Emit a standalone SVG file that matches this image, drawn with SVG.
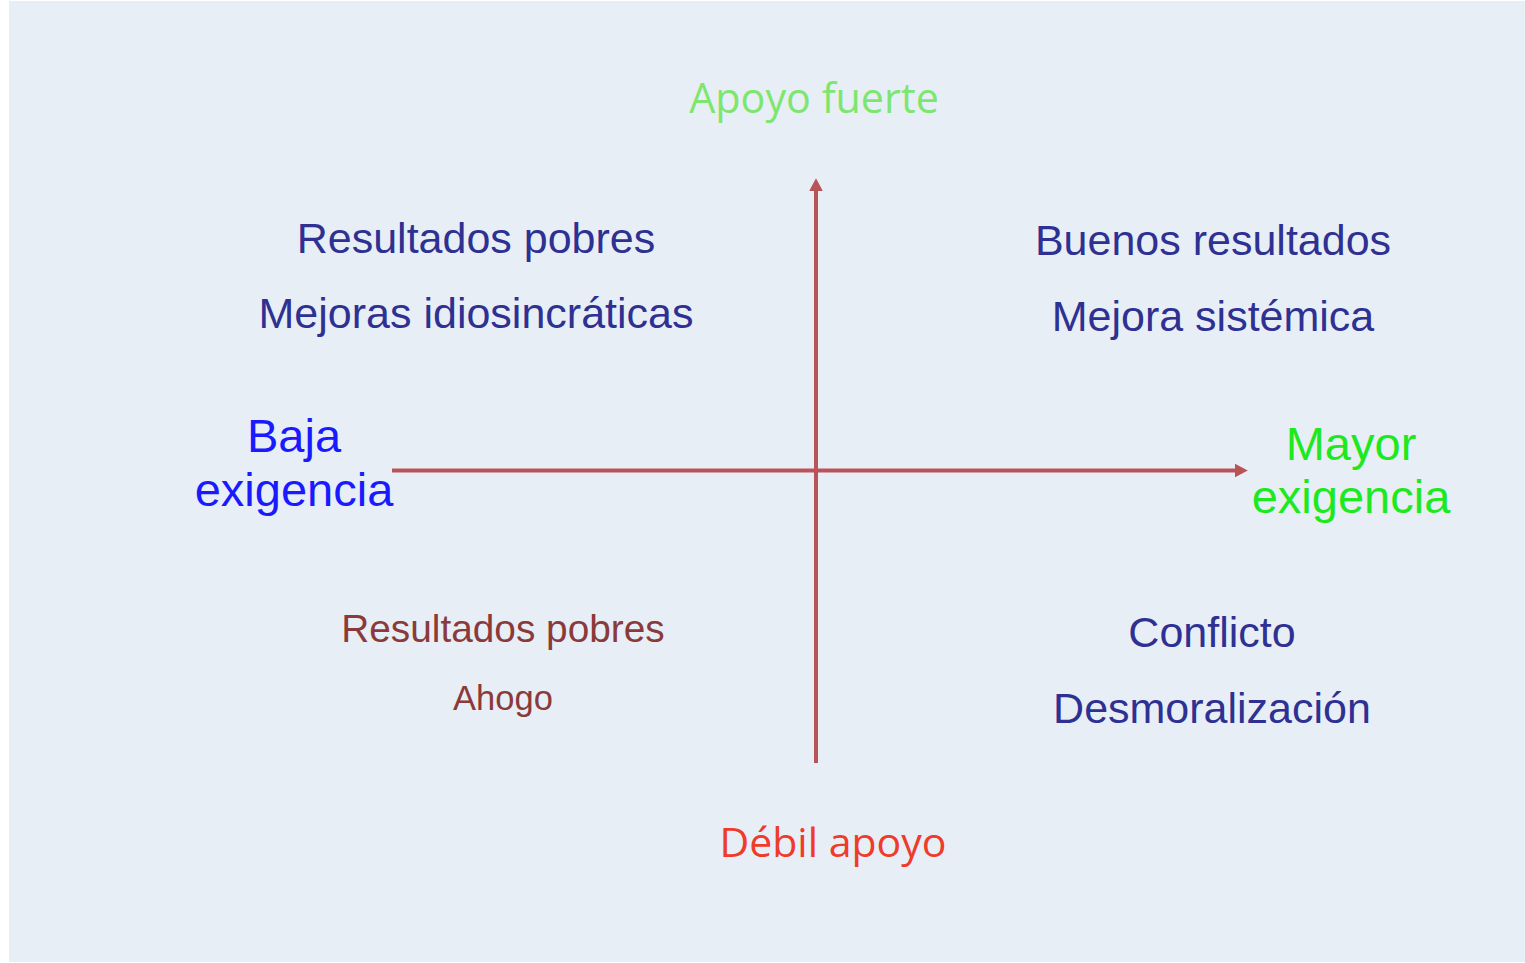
<svg xmlns="http://www.w3.org/2000/svg" width="1525" height="963" viewBox="0 0 1525 963">
<style>
.s{font-family:"Liberation Sans",Arial,sans-serif;text-anchor:middle}
.o{font-family:"Open Sans","Noto Sans",sans-serif;text-anchor:middle}
.q{fill:#2E3192;font-size:43px}
.ax{stroke:#B85457;stroke-width:4;fill:none}
</style>
<defs>
<marker id="ah" markerWidth="4" markerHeight="4" refX="0.5" refY="2" orient="auto" markerUnits="strokeWidth">
<path d="M0,0.3 L3.2,2 L0,3.7 Z" fill="#B85457"/>
</marker>
</defs>
<rect x="0" y="0" width="1525" height="963" fill="#FFFFFF"/>
<rect x="9" y="1" width="1516" height="961" fill="#E8EEF6"/>
<g id="connectors">
<line class="ax" x1="816" y1="763" x2="816" y2="189" marker-end="url(#ah)"/>
<line class="ax" x1="392" y1="470.5" x2="1237" y2="470.5" marker-end="url(#ah)"/>
</g>
<g id="top-label"><text class="o" x="814" y="113" font-size="41.3" fill="#7DE66F">Apoyo fuerte</text></g>
<g id="bottom-label"><text class="o" x="833" y="857" font-size="41" fill="#EE3B2A">Débil apoyo</text></g>
<g id="left-label">
<text class="s" x="294" y="452" font-size="47" fill="#1A1AFF">Baja</text>
<text class="s" x="294" y="506" font-size="47" fill="#1A1AFF">exigencia</text>
</g>
<g id="right-label">
<text class="s" x="1351" y="460" font-size="47" fill="#1EE81E">Mayor</text>
<text class="s" x="1351" y="513" font-size="47" fill="#1EE81E">exigencia</text>
</g>
<g id="q-top-left">
<text class="s q" x="476" y="253">Resultados pobres</text>
<text class="s q" x="476" y="328">Mejoras idiosincráticas</text>
</g>
<g id="q-top-right">
<text class="s q" x="1213" y="255">Buenos resultados</text>
<text class="s q" x="1213" y="331">Mejora sistémica</text>
</g>
<g id="q-bottom-left">
<text class="s" x="503" y="642" font-size="38.8" fill="#8B3A3A">Resultados pobres</text>
<text class="s" x="503" y="710" font-size="34.5" fill="#8B3A3A">Ahogo</text>
</g>
<g id="q-bottom-right">
<text class="s q" x="1212" y="647">Conflicto</text>
<text class="s q" x="1212" y="723">Desmoralización</text>
</g>
</svg>
